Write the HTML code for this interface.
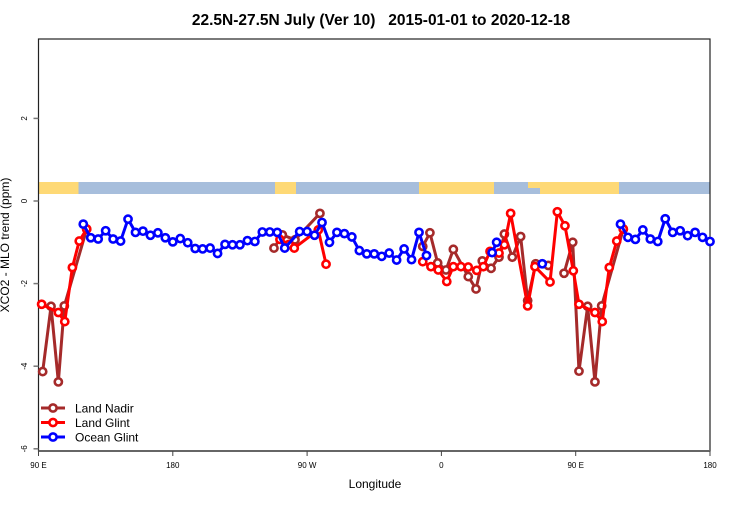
<!DOCTYPE html>
<html><head><meta charset="utf-8"><style>
body{margin:0;background:#fff;}
svg text{font-family:"Liberation Sans",sans-serif;}
</style></head><body>
<svg id="chart" width="750" height="500" xmlns="http://www.w3.org/2000/svg">
<text x="381" y="25" text-anchor="middle" font-size="15.5" font-weight="bold" style="white-space:pre" xml:space="preserve">22.5N-27.5N July (Ver 10)   2015-01-01 to 2020-12-18</text>
<g id="band">
<rect x="38.5" y="182" width="671.5" height="12" fill="#a7bedc"/>
<rect x="38.5" y="182" width="40" height="12" fill="#fed976"/>
<rect x="275" y="182" width="21" height="12" fill="#fed976"/>
<rect x="419" y="182" width="75" height="12" fill="#fed976"/>
<rect x="540" y="182" width="79" height="12" fill="#fed976"/>
<rect x="528" y="182" width="12" height="6" fill="#fed976"/>
</g>
<g id="axes"></g>
<g id="series"></g>
<g id="legend"></g>
<text x="375" y="488" text-anchor="middle" font-size="12">Longitude</text>
<text transform="translate(9,245) rotate(-90)" text-anchor="middle" font-size="12">XCO2 - MLO trend (ppm)</text>
</svg>
<script>
const xTickVals=[90,180,270,360,450,540];
const xTickLabels=["90 E","180","90 W","0","90 E","180"];
const yTickVals=[-6,-4,-2,0,2];
const yTickLabels=["-6","-4","-2","0","2"];
const seriesNames=["Land Nadir","Land Glint","Ocean Glint"];
const nadirLon=[92.8,98.4,103.3,107.3,122.3,null,247.8,253.4,261.9,278.6,null,347.5,352.3,357.5,363.1,368,378,383.2,387.4,393.3,398.6,402.2,407.5,413.1,417.8,423.2,431.6,null,442.2,448,452.2,458,462.9,467.4,481.9];
const nadirVal=[-4.13,-2.55,-4.38,-2.54,-0.68,null,-1.14,-0.82,-0.94,-0.3,null,-1.10,-0.77,-1.5,-1.67,-1.17,-1.83,-2.13,-1.45,-1.63,-1.36,-0.8,-1.36,-0.86,-2.41,-1.52,-1.56,null,-1.75,-1.0,-4.12,-2.55,-4.38,-2.54,-0.68];
const glintLon=[92.1,103.3,107.6,112.7,117.3,122.3,null,251.8,257.9,261.4,277.5,282.7,null,347.5,353,357.9,363.6,368,373.1,378,383.7,388.1,392.6,398.6,402.2,406.4,417.8,422.7,432.8,437.7,442.8,448.4,452.2,462.9,467.8,472.5,477.5,481.9];
const glintVal=[-2.5,-2.7,-2.92,-1.61,-0.97,-0.68,null,-0.93,-1.05,-1.14,-0.7,-1.53,null,-1.47,-1.59,-1.67,-1.95,-1.59,-1.59,-1.6,-1.68,-1.59,-1.22,-1.26,-1.06,-0.3,-2.54,-1.59,-1.96,-0.26,-0.6,-1.69,-2.5,-2.7,-2.92,-1.61,-0.97,-0.68];
const oceanLon=[120,125,130,135,140,145,150,155,160,165,170,175,180,185,190,195,200,205,210,215,220,225,230,235,240,245,250,255,265,270,275,280,285,290,295,300,305,310,315,320,325,330,335,340,345,350,null,394,397,null,427.6,null,480,485,490,495,500,505,510,515,520,525,530,535,540];
const oceanVal=[-0.56,-0.89,-0.92,-0.72,-0.92,-0.97,-0.44,-0.76,-0.73,-0.83,-0.77,-0.89,-0.99,-0.91,-1.01,-1.15,-1.16,-1.14,-1.27,-1.05,-1.06,-1.06,-0.96,-0.98,-0.75,-0.75,-0.76,-1.14,-0.74,-0.74,-0.83,-0.52,-1.0,-0.76,-0.79,-0.87,-1.2,-1.28,-1.28,-1.34,-1.26,-1.43,-1.16,-1.42,-0.76,-1.32,null,-1.25,-1.0,null,-1.52,null,-0.56,-0.88,-0.93,-0.70,-0.92,-0.98,-0.43,-0.76,-0.72,-0.84,-0.76,-0.88,-0.98];
const colors=["#a52a2a","#ff0000","#0000ff"];

const NS="http://www.w3.org/2000/svg";
const X0=38.5,X1=710,Y0=39,Y1=451;
function xs(l){return X0+(l-90)*(X1-X0)/450;}
function ys(v){return 201-v*41.3;}
function mk(t,a,p){const e=document.createElementNS(NS,t);for(const k in a)e.setAttribute(k,a[k]);p.appendChild(e);return e;}
const ax=document.getElementById('axes');
let b=mk('rect',{x:X0,y:Y0,width:X1-X0,height:Y1-Y0,fill:'none',stroke:'#222','stroke-width':1.2},ax);


let bl=mk('line',{x1:X0,x2:X1,y1:Y1,y2:Y1,stroke:'#666','stroke-width':2},ax);


xTickVals.forEach((v,i)=>{
 const x=xs(v);
 const t=mk('line',{x1:x,x2:x,y1:Y1,y2:Y1+5,stroke:'#444'},ax);
 
 
 const tx=mk('text',{x:x,y:468,'text-anchor':'middle','font-size':8},ax);
 tx.textContent=xTickLabels[i];
 
 
});
yTickVals.forEach((v,i)=>{
 const y=ys(v);
 const t=mk('line',{x1:X0-5,x2:X0,y1:y,y2:y,stroke:'#777','stroke-width':1.5},ax);
 
 
 const tx=mk('text',{transform:`translate(27,${y}) rotate(-90)`,'text-anchor':'middle','font-size':8},ax);
 tx.textContent=yTickLabels[i];
 
 
});
const sg=document.getElementById('series');
function drawSeries(lons,vals,col,name){
 const g=mk('g',{},sg);
 
 
 let segs=[],cur=[];
 lons.forEach((l,i)=>{if(l===null||vals[i]===null){if(cur.length)segs.push(cur);cur=[];}else cur.push([xs(l),ys(vals[i])]);});
 if(cur.length)segs.push(cur);
 segs.forEach(s=>{
  const p=mk('polyline',{points:s.map(q=>q.join(',')).join(' '),fill:'none',stroke:col,'stroke-width':3,'stroke-linejoin':'round'},g);
  
  
 });
 segs.forEach(s=>s.forEach(q=>{
  const c=mk('circle',{cx:q[0],cy:q[1],r:3.6,fill:'#fff',stroke:col,'stroke-width':2.6},g);
  
  
 }));
}
drawSeries(nadirLon,nadirVal,colors[0],'land-nadir-series');
drawSeries(glintLon,glintVal,colors[1],'land-glint-series');
drawSeries(oceanLon,oceanVal,colors[2],'ocean-glint-series');
const lg=document.getElementById('legend');
seriesNames.forEach((n,i)=>{
 const y=408+i*14.5;
 const g=mk('g',{},lg);
 
 
 mk('line',{x1:41,x2:65,y1:y,y2:y,stroke:colors[i],'stroke-width':3},g);
 mk('circle',{cx:53,cy:y,r:3.6,fill:'#fff',stroke:colors[i],'stroke-width':2.6},g);
 const t=mk('text',{x:75,y:y+4.5,'font-size':12},g);
 t.textContent=n;
});
</script>
</body></html>
